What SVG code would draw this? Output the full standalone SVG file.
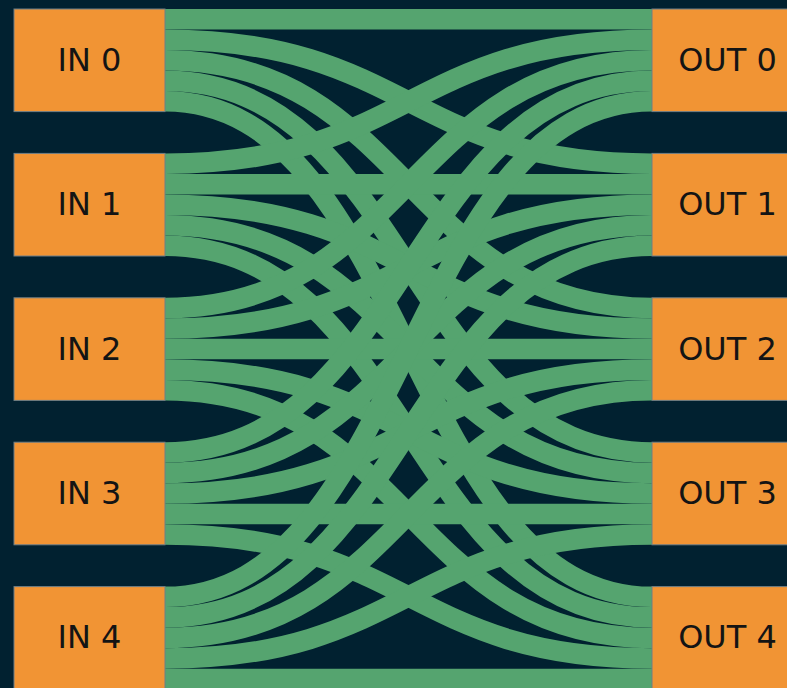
<svg xmlns="http://www.w3.org/2000/svg" width="787" height="688" viewBox="0 0 787 688">
<style>
.bg{fill:#012130}
.node rect{fill:#F19434;stroke:#6f7f86;stroke-width:1}
.node text{font-family:"DejaVu Sans",sans-serif;font-size:32px;fill:#141414;text-anchor:middle}
.links path{fill:none;stroke:#55A46F;stroke-width:20.52}
</style>
<rect class="bg" x="0" y="0" width="787" height="688"/>
<g id="links" class="links">
<path d="M165,19.26C408.5,19.26 408.5,19.26 652,19.26"/>
<path d="M165,39.78C408.5,39.78 408.5,163.66 652,163.66"/>
<path d="M165,60.30C408.5,60.30 408.5,308.06 652,308.06"/>
<path d="M165,80.82C408.5,80.82 408.5,452.46 652,452.46"/>
<path d="M165,101.34C408.5,101.34 408.5,596.86 652,596.86"/>
<path d="M165,163.66C408.5,163.66 408.5,39.78 652,39.78"/>
<path d="M165,184.18C408.5,184.18 408.5,184.18 652,184.18"/>
<path d="M165,204.70C408.5,204.70 408.5,328.58 652,328.58"/>
<path d="M165,225.22C408.5,225.22 408.5,472.98 652,472.98"/>
<path d="M165,245.74C408.5,245.74 408.5,617.38 652,617.38"/>
<path d="M165,308.06C408.5,308.06 408.5,60.30 652,60.30"/>
<path d="M165,328.58C408.5,328.58 408.5,204.70 652,204.70"/>
<path d="M165,349.10C408.5,349.10 408.5,349.10 652,349.10"/>
<path d="M165,369.62C408.5,369.62 408.5,493.50 652,493.50"/>
<path d="M165,390.14C408.5,390.14 408.5,637.90 652,637.90"/>
<path d="M165,452.46C408.5,452.46 408.5,80.82 652,80.82"/>
<path d="M165,472.98C408.5,472.98 408.5,225.22 652,225.22"/>
<path d="M165,493.50C408.5,493.50 408.5,369.62 652,369.62"/>
<path d="M165,514.02C408.5,514.02 408.5,514.02 652,514.02"/>
<path d="M165,534.54C408.5,534.54 408.5,658.42 652,658.42"/>
<path d="M165,596.86C408.5,596.86 408.5,101.34 652,101.34"/>
<path d="M165,617.38C408.5,617.38 408.5,245.74 652,245.74"/>
<path d="M165,637.90C408.5,637.90 408.5,390.14 652,390.14"/>
<path d="M165,658.42C408.5,658.42 408.5,534.54 652,534.54"/>
<path d="M165,678.94C408.5,678.94 408.5,678.94 652,678.94"/>
</g>
<g id="in0" class="node"><rect x="14" y="9" width="151" height="102.6"/><text x="89.5" y="70.8">IN 0</text></g>
<g id="in1" class="node"><rect x="14" y="153.4" width="151" height="102.6"/><text x="89.5" y="215.2">IN 1</text></g>
<g id="in2" class="node"><rect x="14" y="297.8" width="151" height="102.6"/><text x="89.5" y="359.6">IN 2</text></g>
<g id="in3" class="node"><rect x="14" y="442.2" width="151" height="102.6"/><text x="89.5" y="504">IN 3</text></g>
<g id="in4" class="node"><rect x="14" y="586.6" width="151" height="102.6"/><text x="89.5" y="648.4">IN 4</text></g>
<g id="out0" class="node"><rect x="652" y="9" width="151" height="102.6"/><text x="727.5" y="70.8">OUT 0</text></g>
<g id="out1" class="node"><rect x="652" y="153.4" width="151" height="102.6"/><text x="727.5" y="215.2">OUT 1</text></g>
<g id="out2" class="node"><rect x="652" y="297.8" width="151" height="102.6"/><text x="727.5" y="359.6">OUT 2</text></g>
<g id="out3" class="node"><rect x="652" y="442.2" width="151" height="102.6"/><text x="727.5" y="504">OUT 3</text></g>
<g id="out4" class="node"><rect x="652" y="586.6" width="151" height="102.6"/><text x="727.5" y="648.4">OUT 4</text></g>
</svg>
